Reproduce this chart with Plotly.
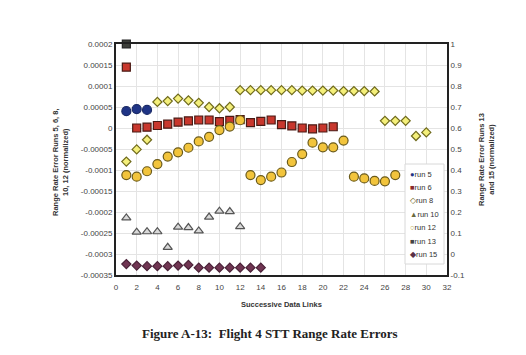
import plotly.graph_objects as go

# ---- data ----
run5_x = [1, 2, 3]
run5_y = [0.00004, 0.000045, 0.000043]

run6_x = list(range(1, 22))
run6_y = [0.000145, 0.0, 0.000002, 0.000006, 0.000009, 0.000014, 0.000017, 0.000019, 0.000019,
          0.000015, 0.000018, 0.00002, 0.000013, 0.000016, 0.000019, 0.000008, 0.000005, 0.0,
          -0.000002, 0.0, 0.000003]

run8_x = list(range(1, 26)) + [26, 27, 28, 29, 30]
run8_y = [-0.00008, -0.000051, -0.000028, 0.000062, 0.000064, 0.00007, 0.000066, 0.00006,
          0.00005, 0.000047, 0.00005, 0.00009, 0.00009, 0.00009, 0.00009, 0.00009, 0.00009,
          0.000089, 0.000089, 0.000089, 0.000089, 0.000088, 0.000088, 0.000088, 0.000087,
          0.000017, 0.000017, 0.000017, -0.000019, -0.0000105]

run10_x = list(range(1, 13))
run10_y = [-0.000214, -0.000248, -0.000247, -0.000247, -0.000284, -0.000236, -0.000237,
           -0.000245, -0.000212, -0.000198, -0.000199, -0.000235]

run12_x = list(range(1, 23)) + [23, 24, 25, 26, 27]
run12_y = [-0.000112, -0.000116, -0.000103, -0.000086, -0.000068, -0.000058, -0.000047,
           -0.000032, -0.000021, -0.000005, 0.0000035, 0.0000185, -0.000112, -0.000124,
           -0.000116, -0.000106, -0.000081, -0.000062, -0.000035, -0.000046, -0.000046,
           -0.00003, -0.000116, -0.00012, -0.000126, -0.000127, -0.000112]

run13_x = [1]
run13_y = [1.0]

run15_x = list(range(1, 15))
run15_y = [-0.048, -0.055, -0.058, -0.058, -0.058, -0.055, -0.052, -0.065, -0.065, -0.065,
           -0.065, -0.065, -0.065, -0.065]

x_ticks = list(range(0, 33, 2))
left_tickvals = [0.0002, 0.00015, 0.0001, 0.00005, 0, -0.00005, -0.0001, -0.00015, -0.0002,
                 -0.00025, -0.0003, -0.00035]
left_ticktext = ["0.0002", "0.00015", "0.0001", "0.00005", "0", "-0.00005", "-0.0001",
                 "-0.00015", "-0.0002", "-0.00025", "-0.0003", "-0.00035"]
right_tickvals = [1, 0.9, 0.8, 0.7, 0.6, 0.5, 0.4, 0.3, 0.2, 0.1, 0, -0.1]
right_ticktext = ["1", "0.9", "0.8", "0.7", "0.6", "0.5", "0.4", "0.3", "0.2", "0.1", "0", "-0.1"]

legend_names = ["run 5", "run 6", "run 8", "run 10", "run 12", "run 13", "run 15"]
legend_glyphs = ["●", "■", "◇", "▲", "○", "■", "◆"]
legend_colors = ["#1f3486", "#8a2a2a", "#6f6a1c", "#6a6a40", "#b09a20", "#444444", "#5a3048"]

# page body has an 8px margin, so the figure is offset by 8px
OFF = 8
W, H = 526 - OFF, 355 - OFF
ML, MR, MT, MB = 116 - OFF, 79, 44 - OFF, 80


def px(x):
    return (x - OFF - ML) / (W - ML - MR)


def py(y):
    return (H - MB - (y - OFF)) / (H - MT - MB)


fig = go.Figure()


def add(name, x, y, symbol, fill, line, size, yaxis="y"):
    fig.add_trace(go.Scatter(
        x=x, y=y, name=name, mode="markers", yaxis=yaxis, cliponaxis=False,
        marker=dict(symbol=symbol, color=fill, size=size, line=dict(color=line, width=1.2))))


add("run 5", run5_x, run5_y, "circle", "#1f3486", "#1a2a66", 9)
add("run 6", run6_x, run6_y, "square", "#c8372d", "#4a1a14", 8)
add("run 8", run8_x, run8_y, "diamond", "#f4ef7a", "#6f6a1c", 7)
add("run 10", run10_x, run10_y, "triangle-up", "#d9d9d9", "#555555", 8)
add("run 12", run12_x, run12_y, "circle", "#f2c43c", "#6a5a1a", 9)
add("run 13", run13_x, run13_y, "square", "#3d3f3a", "#222222", 8, "y2")
add("run 15", run15_x, run15_y, "diamond", "#703552", "#4a2238", 7, "y2")

tickfont = dict(family="Arial", size=8, color="#444444")
fig.update_layout(
    width=W, height=H,
    paper_bgcolor="white", plot_bgcolor="white",
    margin=dict(l=ML, r=MR, t=MT, b=MB),
    font=dict(family="Arial", size=8, color="#333333"),
    showlegend=False,
    xaxis=dict(range=[0, 32], tickvals=x_ticks, showgrid=True, gridcolor="#e4e4e4",
               gridwidth=1, zeroline=False, showline=True, linecolor="#222222", linewidth=2,
               mirror=True, ticks="", tickfont=tickfont, automargin=False,
               ticklabelstandoff=3),
    yaxis=dict(range=[-0.00035, 0.0002], tickvals=left_tickvals, ticktext=left_ticktext,
               showgrid=True, gridcolor="#e4e4e4", zeroline=False, showline=True,
               linecolor="#222222", linewidth=2, ticks="", tickfont=tickfont, automargin=False),
    yaxis2=dict(range=[-0.1, 1], tickvals=right_tickvals, ticktext=right_ticktext,
                overlaying="y", side="right", showgrid=False, zeroline=False, showline=True,
                linecolor="#222222", linewidth=2, ticks="", tickfont=tickfont, automargin=False),
)

afont = dict(family="Arial", size=7.5, color="#333333")
common = dict(xref="paper", yref="paper", showarrow=False, xanchor="center", yanchor="middle")
fig.add_annotation(text="<b>Range Rate Error Runs 5, 6, 8,<br>10, 12 (normalized)</b>",
                   x=px(60), y=py(162), textangle=-90, font=afont, **common)
fig.add_annotation(text="<b>Range Rate Error Runs 13<br>and 15 (normalized)</b>",
                   x=px(486), y=py(160), textangle=-90, font=afont, **common)
fig.add_annotation(text="<b>Successive Data Links</b>", x=px(281), y=py(304),
                   font=afont, **common)
fig.add_annotation(text="<b>Figure A-13:  Flight 4 STT Range Rate Errors</b>",
                   x=px(270), y=py(333),
                   font=dict(family="Liberation Serif", size=13, color="#222222"), **common)

# legend box (compact, like the original)
fig.add_shape(type="rect", xref="paper", yref="paper", x0=px(405), x1=px(444),
              y0=py(264), y1=py(164), line=dict(color="#d8d8d8", width=1),
              fillcolor="white", layer="above")
for i, (nm, g, c) in enumerate(zip(legend_names, legend_glyphs, legend_colors)):
    fig.add_annotation(text=f'<span style="color:{c}">{g}</span>{nm}',
                       x=px(408), y=py(174 + i * 13.4), xref="paper", yref="paper",
                       xanchor="left", yanchor="middle", showarrow=False,
                       font=dict(family="Arial", size=7.5, color="#333333"))

fig.write_html("out.html")
